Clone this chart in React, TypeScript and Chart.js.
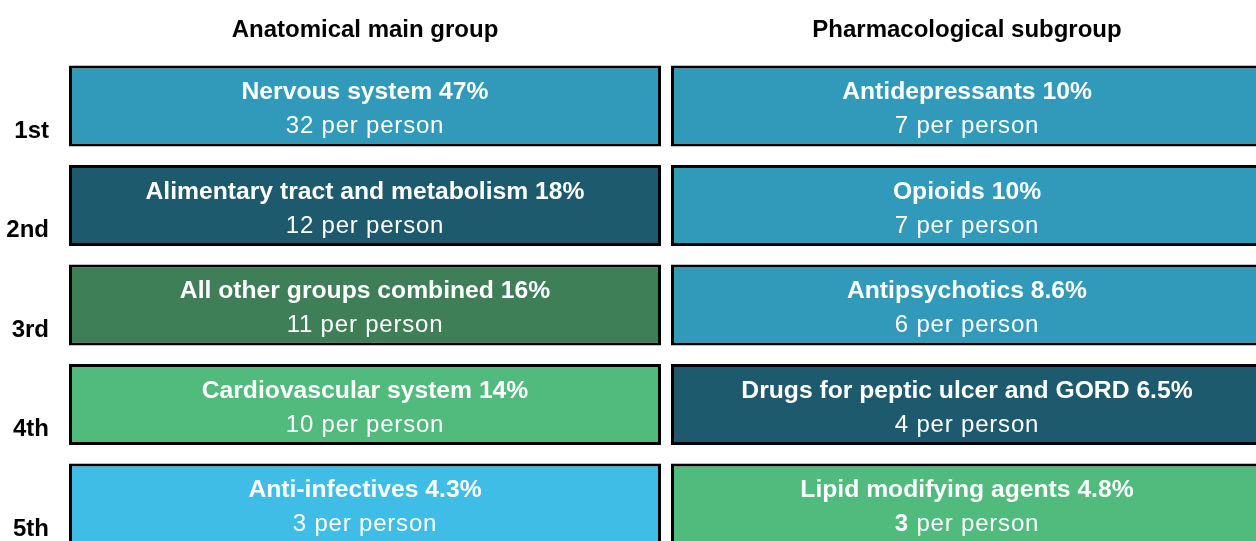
import React, { useEffect, useRef } from "react";
import { Chart, registerables } from "chart.js";

Chart.register(...registerables);

// ---------- data ----------
const ranks = ["1st", "2nd", "3rd", "4th", "5th"];
const columnHeaders = ["Anatomical main group", "Pharmacological subgroup"];

const anatomicalGroups = [
  "Nervous system",
  "Alimentary tract and metabolism",
  "All other groups combined",
  "Cardiovascular system",
  "Anti-infectives",
];
const anatomicalShares = [47, 18, 16, 14, 4.3];
const anatomicalPerPerson = [32, 12, 11, 10, 3];

const pharmaGroups = [
  "Antidepressants",
  "Opioids",
  "Antipsychotics",
  "Drugs for peptic ulcer and GORD",
  "Lipid modifying agents",
];
const pharmaShares = [10, 10, 8.6, 6.5, 4.8];
const pharmaPerPerson = [7, 7, 6, 4, 3];

// ---------- styles ----------
const TEAL = "#3199BA";
const DARK = "#1E5A6E";
const DGREEN = "#3E7F58";
const LGREEN = "#50BB7C";
const SKY = "#40BDE7";
const anatomicalColors = [TEAL, DARK, DGREEN, LGREEN, SKY];
const pharmaColors = [TEAL, TEAL, TEAL, DARK, LGREEN];
const pharmaBoldCount = [false, false, false, false, true];
const anatomicalBoldCount = [false, false, false, false, false];

const FONT = '"Liberation Sans", Arial, sans-serif';
const COL_GAP = 10 / 592; // gap between the two columns, in column widths
const X_MAX = 1187 / 592; // right edge of visible area, in column widths

const columns = [
  { names: anatomicalGroups, shares: anatomicalShares, per: anatomicalPerPerson, bold: anatomicalBoldCount },
  { names: pharmaGroups, shares: pharmaShares, per: pharmaPerPerson, bold: pharmaBoldCount },
];

const boxTextPlugin = {
  id: "boxText",
  afterDatasetsDraw(chart: any) {
    const ctx: CanvasRenderingContext2D = chart.ctx;
    ctx.save();
    chart.data.datasets.forEach((ds: any, di: number) => {
      const meta = chart.getDatasetMeta(di);
      const col = columns[di];
      meta.data.forEach((el: any, i: number) => {
        const { x, base, y } = el.getProps(["x", "base", "y"], true);
        const cx = (x + base) / 2;
        ctx.fillStyle = "#FFFFFF";
        ctx.textAlign = "center";
        ctx.textBaseline = "alphabetic";
        (ctx as any).letterSpacing = "0px";
        ctx.font = `bold 24.7px ${FONT}`;
        ctx.fillText(`${col.names[i]} ${col.shares[i]}%`, cx, y - 7);

        (ctx as any).letterSpacing = "0.8px";
        const num = `${col.per[i]}`;
        const rest = " per person";
        if (col.bold[i]) {
          ctx.font = `bold 24px ${FONT}`;
          const w1 = ctx.measureText(num).width;
          ctx.font = `24px ${FONT}`;
          const w2 = ctx.measureText(rest).width;
          const start = cx - (w1 + w2) / 2;
          ctx.textAlign = "left";
          ctx.font = `bold 24px ${FONT}`;
          ctx.fillText(num, start, y + 27);
          ctx.font = `24px ${FONT}`;
          ctx.fillText(rest, start + w1, y + 27);
        } else {
          ctx.font = `24px ${FONT}`;
          ctx.fillText(num + rest, cx, y + 27);
        }
      });
      // column header
      const first = meta.data[0];
      if (first) {
        const { x, base } = first.getProps(["x", "base"], true);
        ctx.fillStyle = "#000000";
        ctx.textAlign = "center";
        ctx.textBaseline = "alphabetic";
        (ctx as any).letterSpacing = "0px";
        ctx.font = `bold 24px ${FONT}`;
        ctx.fillText(ds.label, (x + base) / 2, 36.5);
      }
    });
    ctx.restore();
  },
};

export default function App() {
  const canvasRef = useRef<HTMLCanvasElement | null>(null);

  useEffect(() => {
    document.body.style.margin = "0";
    document.body.style.overflow = "hidden";
    const canvas = canvasRef.current;
    if (!canvas) return;

    const barStyle = {
      borderColor: "#000000",
      borderWidth: 3,
      borderSkipped: false,
      grouped: false,
      clip: false,
      categoryPercentage: 1,
      barPercentage: 0.814,
    };

    const chart = new Chart(canvas, {
      type: "bar",
      data: {
        labels: ranks,
        datasets: columnHeaders.map((h, ci) => ({
          label: h,
          data: ranks.map(() => [ci * (1 + COL_GAP), ci * (1 + COL_GAP) + 1]),
          backgroundColor: ci === 0 ? anatomicalColors : pharmaColors,
          ...barStyle,
        })) as any,
      },
      options: {
        indexAxis: "y",
        responsive: false,
        animation: false,
        devicePixelRatio: 1,
        layout: { padding: { top: 106, bottom: 37, left: 0, right: 0 } },
        plugins: {
          legend: { display: false },
          tooltip: { enabled: false },
          title: { display: false },
        },
        scales: {
          x: {
            type: "linear",
            display: false,
            min: 0,
            max: X_MAX,
          },
          y: {
            type: "category",
            offset: false,
            grid: { display: false, drawTicks: false },
            border: { display: false },
            ticks: {
              color: "#000000",
              font: { family: FONT, size: 24, weight: "bold" },
              padding: 20,
              labelOffset: 25,
            },
            afterFit: (scale: any) => {
              scale.width = 69;
            },
          },
        },
      } as any,
      plugins: [boxTextPlugin],
    });

    return () => chart.destroy();
  }, []);

  return (
    <div style={{ width: 1256, height: 541, position: "relative" }}>
      <canvas ref={canvasRef} width={1256} height={541} style={{ display: "block" }} />
    </div>
  );
}
